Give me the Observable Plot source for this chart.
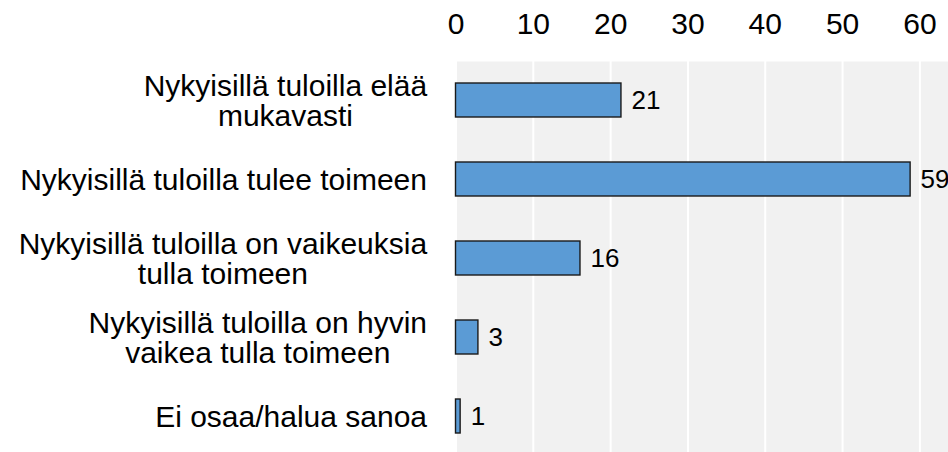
<!DOCTYPE html>
<html>
<head>
<meta charset="utf-8">
<script src="https://cdn.jsdelivr.net/npm/d3@7"></script>
<script src="https://cdn.jsdelivr.net/npm/@observablehq/plot@0.6"></script>
<style>
  html, body { margin: 0; padding: 0; overflow: hidden; background: #fff; }
  #chart svg { display: block; font-family: "Liberation Sans", Arial, sans-serif; }
</style>
</head>
<body>
<div id="chart"></div>
<script>
const categories = [
  "Nykyisillä tuloilla elää\nmukavasti",
  "Nykyisillä tuloilla tulee toimeen",
  "Nykyisillä tuloilla on vaikeuksia\ntulla toimeen",
  "Nykyisillä tuloilla on hyvin\nvaikea tulla toimeen",
  "Ei osaa/halua sanoa"
];
const values = [21.4, 58.8, 16.1, 2.9, 0.6];
const valueLabels = ["21", "59", "16", "3", "1"];
const xTicks = [0, 10, 20, 30, 40, 50, 60];

const data = categories.map((c, i) => ({cat: c, value: values[i], label: valueLabels[i]}));

const chart = Plot.plot({
  width: 948,
  height: 452,
  marginLeft: 455.5,
  marginRight: 0,
  marginTop: 61,
  marginBottom: 0,
  style: {fontFamily: "'Liberation Sans', Arial, sans-serif", color: "#000", background: "transparent"},
  x: {domain: [0, 63.7], axis: null, label: null},
  y: {domain: categories, range: [61, 456], paddingInner: 0.565, paddingOuter: 0.28, axis: null, label: null},
  marks: [
    Plot.frame({fill: "#f1f1f1", stroke: "none"}),
    Plot.gridX(xTicks, {stroke: "#ffffff", strokeOpacity: 1, strokeWidth: 2}),
    Plot.barX(data, {x: "value", y: "cat", fill: "#5b9bd5", stroke: "#1a1a1a", strokeWidth: 1.4}),
    Plot.text(categories, {y: d => d, frameAnchor: "left", textAnchor: "end", dx: -29, dy: 1, fontSize: 30, lineHeight: 1.0, fill: "#000"}),
    Plot.text(data, {x: "value", y: "cat", text: "label", textAnchor: "start", dx: 10, fontSize: 26, fill: "#000"}),
    Plot.axisX(xTicks, {anchor: "top", tickSize: 0, tickPadding: 28, fontSize: 30, fill: "#000", label: null})
  ]
});

document.getElementById("chart").appendChild(chart);

// center multi-line category labels within their right-aligned block
const textGroups = chart.querySelectorAll('g[aria-label="text"]');
if (textGroups.length) {
  textGroups[0].querySelectorAll("text").forEach(t => {
    const spans = t.querySelectorAll("tspan");
    if (spans.length > 1) {
      const bb = t.getBBox();
      const cx = bb.x + bb.width / 2;
      t.setAttribute("text-anchor", "middle");
      spans.forEach(s => s.setAttribute("x", cx));
    }
  });
}
</script>
</body>
</html>
